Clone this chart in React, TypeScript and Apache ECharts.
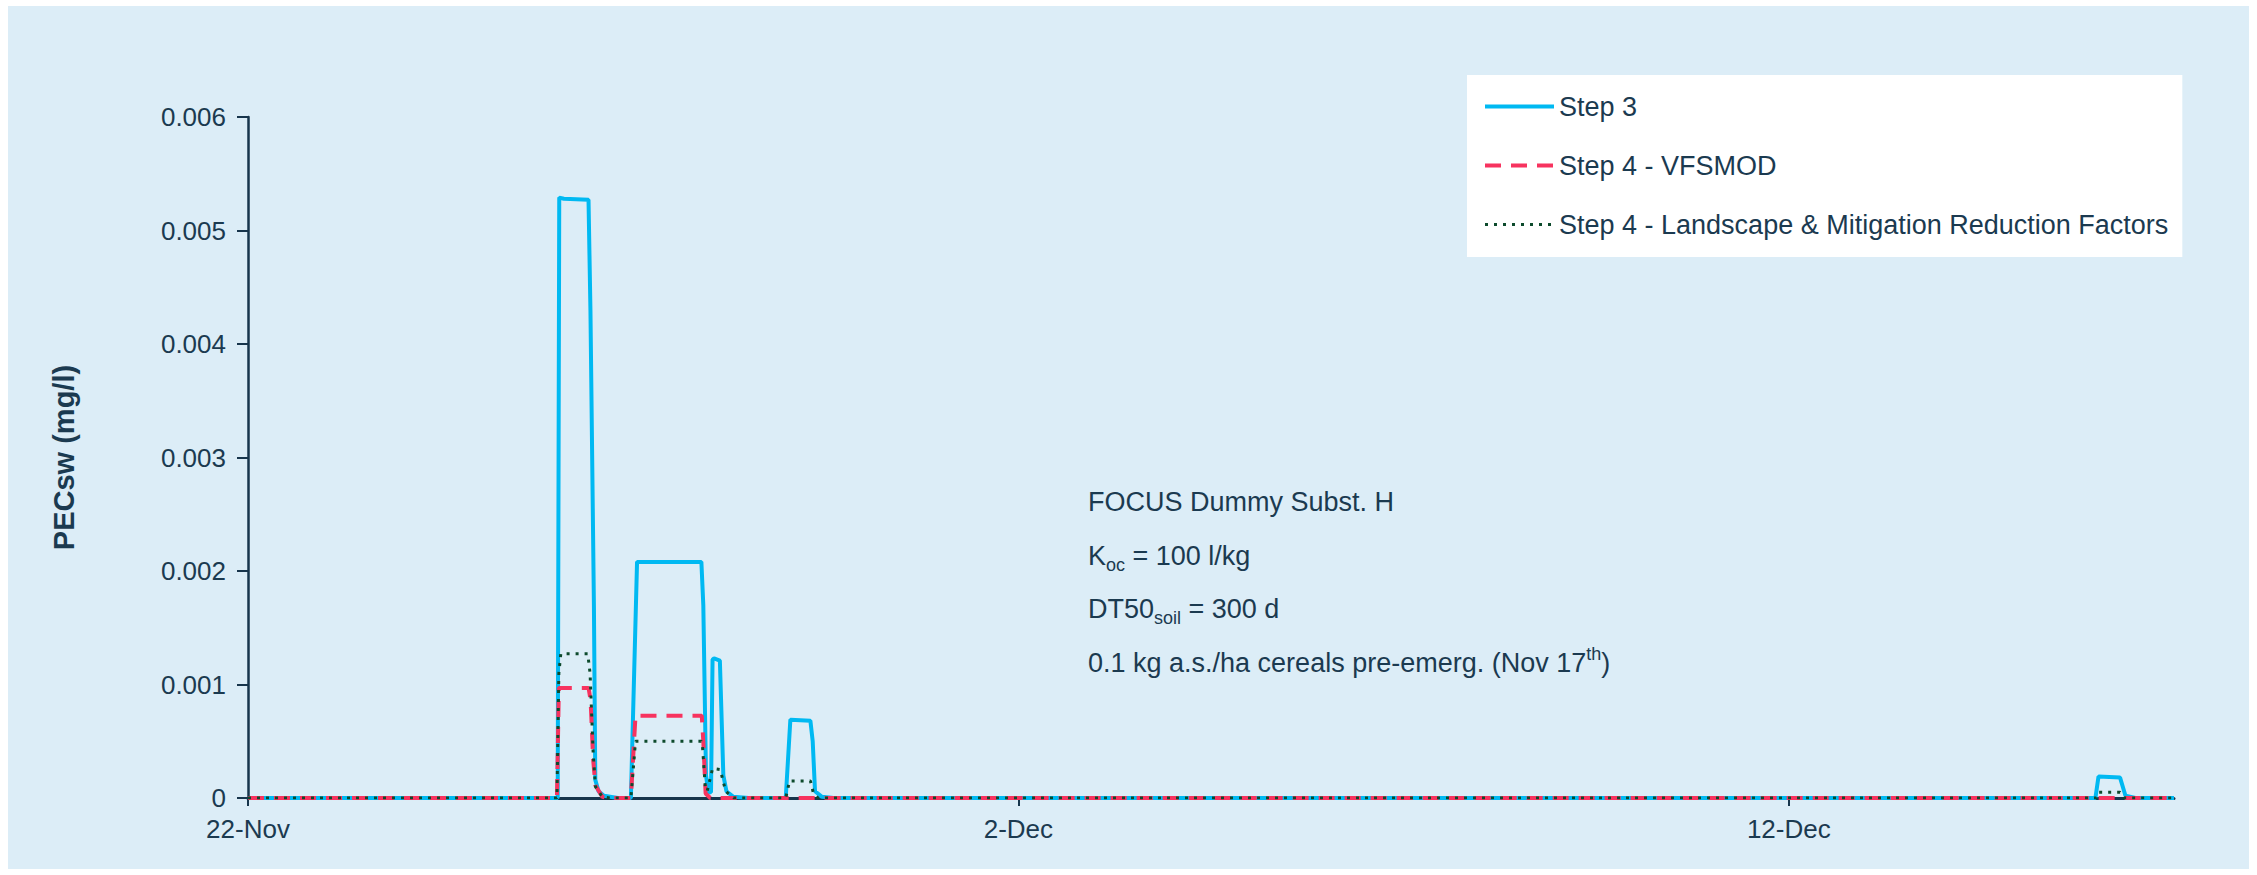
import React, { useEffect, useRef } from "react";
import * as echarts from "echarts";

// x values: days after 22-Nov; y values: PECsw in mg/l
const xTickValues = [0, 10, 20];
const xTickLabels = ["22-Nov", "2-Dec", "12-Dec"];
const yTickLabels = ["0", "0.001", "0.002", "0.003", "0.004", "0.005", "0.006"];

const seriesNames = [
  "Step 3",
  "Step 4 - VFSMOD",
  "Step 4 - Landscape & Mitigation Reduction Factors",
];

const step3: [number, number][] = [
  [0, 0], [4.02, 0], [4.04, 0.00529], [4.1, 0.00528], [4.42, 0.00527], [4.445, 0.0043],
  [4.49, 0.0017], [4.508, 0.00016], [4.55, 0.00006], [4.62, 0.00002], [4.8, 0],
  [4.97, 0], [5.05, 0.00208], [5.885, 0.00208], [5.91, 0.0017], [5.945, 0.0002], [5.975, 0.00005],
  [6.01, 0.00005], [6.03, 0.00122], [6.05, 0.00123], [6.125, 0.00121], [6.17, 0.0002],
  [6.21, 0.00006], [6.3, 0.00001], [6.5, 0],
  [6.98, 0], [7.04, 0.00069], [7.3, 0.00068], [7.33, 0.0005], [7.36, 0.00006], [7.45, 0.00001], [7.6, 0],
  [23.98, 0], [24.02, 0.00019], [24.3, 0.00018], [24.37, 0.00002], [24.5, 0], [25, 0],
];

const step4Vfsmod: [number, number][] = [
  [0, 0], [4.01, 0], [4.035, 0.00097], [4.421, 0.00097], [4.447, 0.00086], [4.48, 0.00034],
  [4.51, 0.00011], [4.6, 0.00001], [4.7, 0],
  [4.97, 0], [5.03, 0.000725], [5.89, 0.000725], [5.91, 0.0005], [5.94, 0.00004], [6.0, 0],
  [25, 0],
];

const step4Lmrf: [number, number][] = [
  [0, 0], [4.01, 0], [4.035, 0.0011], [4.06, 0.00127], [4.41, 0.00127], [4.44, 0.0011],
  [4.48, 0.0004], [4.51, 0.0001], [4.6, 0.00001], [4.7, 0],
  [4.97, 0], [5.03, 0.0005], [5.885, 0.0005], [5.9, 0.00045], [5.935, 0.0001], [5.96, 0.00006],
  [6.03, 0.00026], [6.13, 0.00025], [6.2, 0.00006], [6.3, 0],
  [6.98, 0], [7.03, 0.00015], [7.3, 0.00015], [7.34, 0.00004], [7.4, 0],
  [23.99, 0], [24.02, 0.00005], [24.3, 0.00005], [24.35, 0], [25, 0],
];

const TEXT = "#1b3a50";
const FONT = "'Liberation Sans', Arial, sans-serif";

export default function App() {
  const ref = useRef<HTMLDivElement>(null);

  useEffect(() => {
    if (!ref.current) return;
    const chart = echarts.init(ref.current, undefined, { renderer: "svg" });

    const rich = {
      m: { fontSize: 27, fontFamily: FONT, color: TEXT, lineHeight: 36, verticalAlign: "middle" },
      sub: { fontSize: 18, fontFamily: FONT, color: TEXT, lineHeight: 16, verticalAlign: "bottom" },
      sup: { fontSize: 18, fontFamily: FONT, color: TEXT, lineHeight: 16, verticalAlign: "top" },
    };
    const annot = (text: string, y: number) => ({
      type: "text",
      left: 1080,
      top: y - 18,
      style: { text, rich, fill: TEXT, font: `27px ${FONT}` },
      silent: true,
    });

    chart.setOption({
      animation: false,
      backgroundColor: "#dcedf7",
      textStyle: { fontFamily: FONT, color: TEXT },
      grid: { left: 240, top: 111, right: 75, bottom: 71, containLabel: false },
      legend: {
        orient: "vertical",
        left: 1459,
        top: 69,
        backgroundColor: "#ffffff",
        padding: [18, 14, 19, 16],
        itemGap: 32,
        itemWidth: 69,
        itemHeight: 20,
        itemStyle: { opacity: 0 },
        textStyle: { fontSize: 27, color: TEXT, fontFamily: FONT },
        data: [
          { name: seriesNames[0], lineStyle: { width: 4 } },
          { name: seriesNames[1], lineStyle: { width: 4 } },
          { name: seriesNames[2], lineStyle: { width: 3 } },
        ],
      },
      xAxis: {
        type: "value",
        min: 0,
        max: 25,
        interval: 10,
        splitLine: { show: false },
        axisLine: { lineStyle: { color: "#17354c", width: 3 } },
        axisTick: { show: true, length: 8, customValues: xTickValues, lineStyle: { color: "#17354c", width: 2 } },
        axisLabel: {
          customValues: xTickValues,
          fontSize: 26,
          color: TEXT,
          fontFamily: FONT,
          margin: 18,
          formatter: (v: number) => {
            const i = xTickValues.indexOf(Math.round(v));
            return i >= 0 ? xTickLabels[i] : "";
          },
        },
      },
      yAxis: {
        type: "value",
        min: 0,
        max: 0.006,
        interval: 0.001,
        name: "PECsw (mg/l)",
        nameLocation: "middle",
        nameGap: 170,
        nameTextStyle: { fontSize: 29, fontWeight: "bold", color: TEXT, fontFamily: FONT },
        splitLine: { show: false },
        axisLine: { show: true, lineStyle: { color: "#17354c", width: 2.5 } },
        axisTick: { show: true, length: 11, lineStyle: { color: "#17354c", width: 2 } },
        axisLabel: {
          fontSize: 26,
          color: TEXT,
          fontFamily: FONT,
          margin: 22,
          formatter: (v: number) => yTickLabels[Math.round(v / 0.001)] ?? "",
        },
      },
      series: [
        {
          name: seriesNames[0],
          type: "line",
          data: step3,
          symbol: "none",
          lineStyle: { color: "#00b9f2", width: 4 },
          itemStyle: { color: "#00b9f2" },
        },
        {
          name: seriesNames[1],
          type: "line",
          data: step4Vfsmod,
          symbol: "none",
          lineStyle: { color: "#f7335f", width: 4, type: [16, 10] },
          itemStyle: { color: "#f7335f" },
        },
        {
          name: seriesNames[2],
          type: "line",
          data: step4Lmrf,
          symbol: "none",
          lineStyle: { color: "#0d4a2c", width: 3, type: [3, 6] },
          itemStyle: { color: "#0d4a2c" },
        },
      ],
      graphic: [
        annot("{m|FOCUS Dummy Subst. H}", 500),
        annot("{m|K}{sub|oc}{m| = 100 l/kg}", 554),
        annot("{m|DT50}{sub|soil}{m| = 300 d}", 607),
        annot("{m|0.1 kg a.s./ha cereals pre-emerg. (Nov 17}{sup|th}{m|)}", 657),
      ],
    });

    return () => chart.dispose();
  }, []);

  return (
    <div
      ref={ref}
      style={{ position: "absolute", left: 8, top: 6, width: 2241, height: 863 }}
    />
  );
}
